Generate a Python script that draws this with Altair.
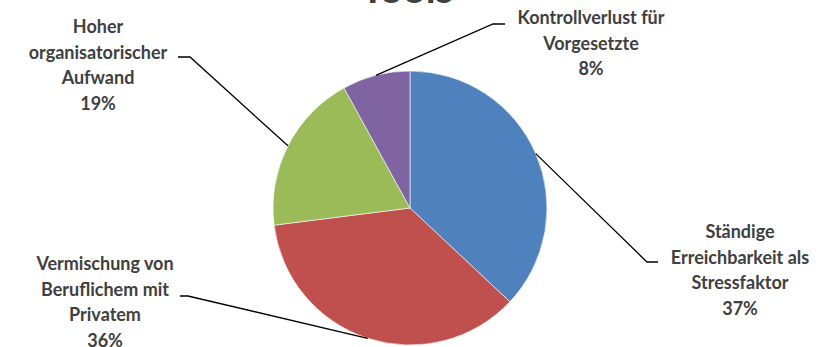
import math
import altair as alt
import pandas as pd

# ---- data ----
categories = [
    "Ständige Erreichbarkeit als Stressfaktor",
    "Vermischung von Beruflichem mit Privatem",
    "Hoher organisatorischer Aufwand",
    "Kontrollverlust für Vorgesetzte",
]
label_lines = [
    ["Ständige", "Erreichbarkeit als", "Stressfaktor"],
    ["Vermischung von", "Beruflichem mit", "Privatem"],
    ["Hoher", "organisatorischer", "Aufwand"],
    ["Kontrollverlust für", "Vorgesetzte"],
]
values = [37, 36, 19, 8]
colors = ["#4F81BD", "#C0504D", "#9BBB59", "#8064A2"]
title_text = "Tools"

# ---- layout ----
W, H = 832, 347
CX, CY, R = 410, 208, 137
# elbow of leader line, end of horizontal stub, label centre x, label top y
layout = [
    dict(elbow=(647, 262), end=(658, 262), lx=740, ly=224),
    dict(elbow=(188, 296), end=(180, 296), lx=105, ly=256),
    dict(elbow=(190, 57), end=(178, 57), lx=98, ly=19),
    dict(elbow=(493, 24), end=(505, 24), lx=591, ly=10),
]
TEXT_COLOR = "#404040"
FONT = "Lato"
FS = 18
LH = 25.5

total = sum(values)
pie_df = pd.DataFrame({"cat": categories, "value": values, "idx": range(len(values))})

pie = alt.Chart(pie_df).mark_arc(radius=R, stroke="white", strokeWidth=0.6).encode(
    theta=alt.Theta("value:Q", stack=True),
    color=alt.Color("cat:N", scale=alt.Scale(domain=categories, range=colors), legend=None),
    order=alt.Order("idx:Q"),
    x=alt.value(CX),
    y=alt.value(CY),
)

# leader lines: start at pie edge at the slice's mid-angle
rows = []
cum = 0
for i, v in enumerate(values):
    mid = (cum + v / 2) / total * 2 * math.pi
    cum += v
    sx = CX + R * math.sin(mid)
    sy = CY - R * math.cos(mid)
    lay = layout[i]
    pts = [(sx, sy), lay["elbow"], lay["end"]]
    for k, (px, py) in enumerate(pts):
        rows.append({"cat": categories[i], "k": k, "x": px, "y": py})
line_df = pd.DataFrame(rows)

lines = alt.Chart(line_df).mark_line(color="black", strokeWidth=1.3).encode(
    x=alt.X("x:Q", scale=None, axis=None),
    y=alt.Y("y:Q", scale=None, axis=None),
    detail="cat:N",
    order="k:Q",
)

text_rows = []
for i, v in enumerate(values):
    lay = layout[i]
    text_rows.append({"txt": label_lines[i] + [f"{v}%"], "x": lay["lx"], "y": lay["ly"]})
text_df = pd.DataFrame(text_rows)

labels = alt.Chart(text_df).mark_text(
    font=FONT, fontSize=FS, fontWeight="bold", color=TEXT_COLOR,
    align="center", baseline="top", lineHeight=LH,
).encode(
    x=alt.X("x:Q", scale=None, axis=None),
    y=alt.Y("y:Q", scale=None, axis=None),
    text="txt",
)

title_df = pd.DataFrame({"t": [title_text], "x": [407], "y": [3]})
title = alt.Chart(title_df).mark_text(
    font=FONT, fontSize=40, fontWeight="bold", color=TEXT_COLOR,
    align="center", baseline="alphabetic",
).encode(
    x=alt.X("x:Q", scale=None, axis=None),
    y=alt.Y("y:Q", scale=None, axis=None),
    text="t:N",
)

chart = alt.layer(pie, lines, labels, title).properties(
    width=W, height=H, autosize=alt.AutoSizeParams(type="none"), padding=0,
    background="white",
).configure_view(stroke=None)

chart.save("out.html", embed_options={"renderer": "svg", "actions": False})
